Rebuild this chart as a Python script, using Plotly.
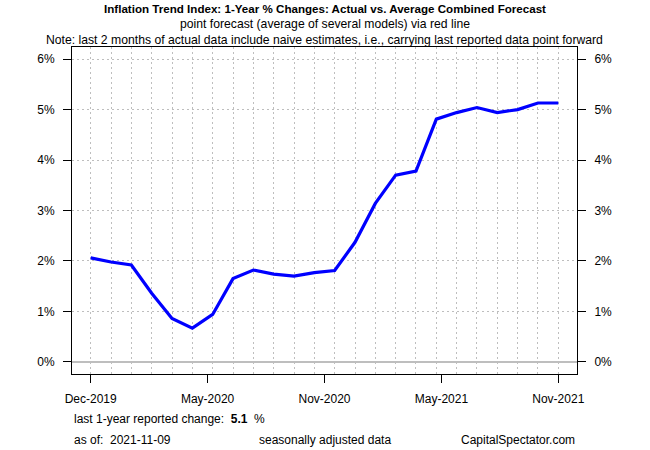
import numpy as np
import plotly.graph_objects as go

# ---- data -------------------------------------------------------------
months = ["Dec-2019", "Jan-2020", "Feb-2020", "Mar-2020", "Apr-2020", "May-2020",
          "Jun-2020", "Jul-2020", "Aug-2020", "Sep-2020", "Oct-2020", "Nov-2020",
          "Dec-2020", "Jan-2021", "Feb-2021", "Mar-2021", "Apr-2021", "May-2021",
          "Jun-2021", "Jul-2021", "Aug-2021", "Sep-2021", "Oct-2021", "Nov-2021"]
actual = [2.06, 1.98, 1.92, 1.36, 0.86, 0.67, 0.94, 1.65, 1.82, 1.74, 1.70, 1.77,
          1.81, 2.37, 3.14, 3.70, 3.78, 4.81, 4.94, 5.04, 4.94, 5.00, 5.13, 5.13]
x_tick_labels = ["Dec-2019", "May-2020", "Nov-2020", "May-2021", "Nov-2021"]
y_tick_values = [0, 1, 2, 3, 4, 5, 6]
y_tick_labels = ["0%", "1%", "2%", "3%", "4%", "5%", "6%"]
last_change = 5.1
as_of = "2021-11-09"

# ---- figure -----------------------------------------------------------
idx = list(range(len(months)))
n = len(months) - 1
x_tick_pos = list(np.linspace(0, n, len(x_tick_labels)))
pad_x = 0.04 * n
xrange = [-pad_x, n + pad_x]
yrange = [-0.24, 6.24]

FONT = "Liberation Sans, Arial, sans-serif"
GRID = "#BEBEBE"

fig = go.Figure()
fig.add_trace(go.Scatter(x=idx, y=actual, mode="lines",
                         line=dict(color="#0000FF", width=3.2),
                         text=months, hovertemplate="%{text}: %{y:.2f}%<extra></extra>",
                         showlegend=False))
# invisible helper trace so the secondary axes (right y, labelled x) are drawn
fig.add_trace(go.Scatter(x=idx, y=actual, mode="lines", xaxis="x2", yaxis="y2",
                         line=dict(color="rgba(0,0,0,0)", width=0),
                         hoverinfo="skip", showlegend=False))

axis_font = dict(family=FONT, size=12, color="black")

fig.update_layout(
    width=650, height=450,
    margin=dict(l=72, r=73, t=47, b=76, autoexpand=False),
    paper_bgcolor="white", plot_bgcolor="white",
    font=axis_font,
    xaxis=dict(range=xrange, tickmode="array", tickvals=idx, showticklabels=False,
               ticks="", showgrid=True, gridcolor=GRID, griddash="2px,3px", gridwidth=1,
               showline=True, linecolor="black", linewidth=1, mirror=True,
               zeroline=False, fixedrange=True, automargin=False),
    xaxis2=dict(range=xrange, overlaying="x", side="bottom", tickmode="array",
                tickvals=x_tick_pos, ticktext=x_tick_labels, ticks="outside",
                ticklen=8, tickcolor="black", tickwidth=1, showgrid=False,
                zeroline=False, showline=False, tickfont=axis_font,
                ticklabelstandoff=6, automargin=False),
    yaxis=dict(range=yrange, tickmode="array", tickvals=y_tick_values,
               ticktext=y_tick_labels, ticks="outside", ticklen=8, tickcolor="black",
               showgrid=True, gridcolor=GRID, griddash="2px,3px", gridwidth=1,
               zeroline=True, zerolinecolor=GRID, zerolinewidth=2,
               showline=True, linecolor="black", linewidth=1, mirror=True,
               tickfont=axis_font, ticklabelstandoff=6, automargin=False),
    yaxis2=dict(range=yrange, overlaying="y", side="right", tickmode="array",
                tickvals=y_tick_values, ticktext=y_tick_labels, ticks="outside",
                ticklen=8, tickcolor="black", showgrid=False, zeroline=False,
                showline=False, tickfont=axis_font, ticklabelstandoff=6,
                automargin=False),
)

title_lines = [
    ("<b>Inflation Trend Index: 1-Year % Changes: Actual vs. Average Combined Forecast</b>", 39, 11.6),
    ("point forecast (average of several models) via red line", 23, 12.2),
    ("Note: last 2 months of actual data include naive estimates, i.e., carrying last reported data point forward", 7.5, 12.2),
]
for txt, ys, fs in title_lines:
    fig.add_annotation(text=txt, xref="paper", yref="paper", x=0.5, y=1,
                       xanchor="center", yanchor="middle", yshift=ys, showarrow=False,
                       font=dict(family=FONT, size=fs, color="black"))

bottom = [
    (f"last 1-year reported change:&nbsp;&nbsp;<b>{last_change}</b>&nbsp;&nbsp;%", 0, "left", -45),
    (f"as of:&nbsp;&nbsp;{as_of}", 0, "left", -66),
    ("seasonally adjusted data", 0.5, "center", -66),
    ("CapitalSpectator.com", 1, "right", -66),
]
for txt, xp, xa, ys in bottom:
    fig.add_annotation(text=txt, xref="paper", yref="paper", x=xp, y=0,
                       xanchor=xa, yanchor="middle", yshift=ys, showarrow=False,
                       font=dict(family=FONT, size=12, color="black"))

fig.write_html("out.html", config={"displayModeBar": False},
               post_script="document.body.style.margin='0px';document.body.style.overflow='hidden';")
